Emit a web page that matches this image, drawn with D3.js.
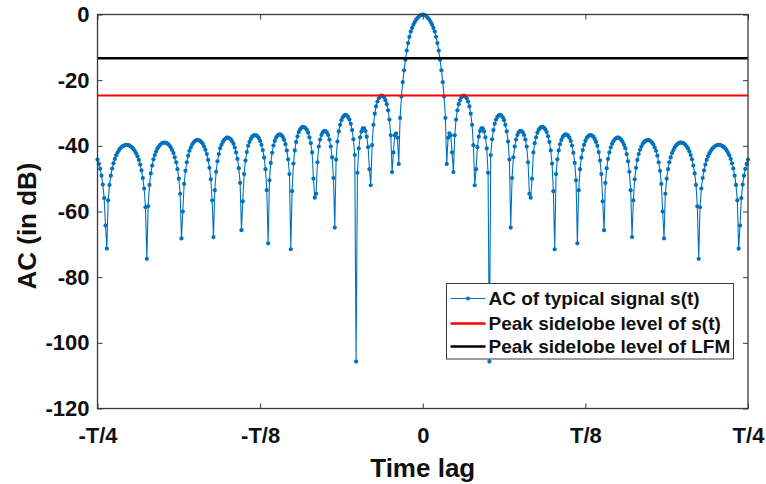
<!DOCTYPE html>
<html>
<head>
<meta charset="utf-8">
<script src="https://cdn.jsdelivr.net/npm/d3@7"></script>
<style>
body { margin: 0; background: #fff; }
svg { display: block; font-family: "Liberation Sans", Arial, sans-serif; font-weight: bold; }
</style>
</head>
<body>
<svg width="766" height="484"></svg>
<script>
// AC of typical signal s(t) in dB
// lags -244 .. -1
const acLeft = [
	-44.2, -45.5, -47.0, -49.1, -51.8, -55.9, -64.3, -71.3, -56.6, -51.9,
	-49.1, -46.9, -45.3, -44.0, -42.9, -42.1, -41.4, -40.8, -40.4, -40.1,
	-39.9, -39.7, -39.7, -39.8, -39.9, -40.2, -40.5, -41.0, -41.6, -42.3,
	-43.2, -44.3, -45.7, -47.5, -49.8, -53.0, -58.7, -74.4, -58.4, -51.9,
	-48.4, -46.0, -44.1, -42.8, -41.7, -40.8, -40.2, -39.7, -39.3, -39.1,
	-39.0, -39.0, -39.2, -39.5, -39.9, -40.5, -41.3, -42.2, -43.5, -45.0,
	-47.1, -50.0, -54.6, -68.2, -60.0, -51.6, -47.6, -45.0, -43.0, -41.5,
	-40.5, -39.6, -39.0, -38.6, -38.3, -38.2, -38.3, -38.5, -38.9, -39.4,
	-40.2, -41.2, -42.5, -44.3, -46.7, -50.2, -56.6, -67.8, -53.5, -47.9,
	-44.7, -42.5, -40.7, -39.7, -38.8, -38.2, -37.8, -37.5, -37.5, -37.7,
	-38.0, -38.6, -39.4, -40.5, -42.0, -44.0, -46.8, -51.3, -65.7, -56.9,
	-48.6, -44.5, -41.9, -40.0, -38.8, -37.9, -37.2, -36.9, -36.7, -36.8,
	-37.1, -37.6, -38.5, -39.7, -41.3, -43.6, -47.1, -53.5, -69.7, -50.5,
	-45.2, -42.1, -39.9, -38.5, -37.5, -36.9, -36.6, -36.5, -36.8, -37.3,
	-38.2, -39.5, -41.4, -44.1, -48.6, -71.5, -53.8, -45.4, -41.4, -38.8,
	-37.1, -35.8, -35.0, -34.5, -34.2, -34.3, -34.6, -35.1, -36.0, -37.4,
	-39.2, -42.0, -50.0, -55.8, -54.6, -45.0, -40.2, -38.1, -36.7, -35.9,
	-35.5, -35.5, -35.9, -36.7, -38.1, -40.2, -43.5, -49.8, -64.9, -44.2,
	-38.7, -35.6, -33.6, -32.2, -31.3, -30.8, -30.6, -30.7, -31.2, -32.0,
	-33.3, -35.2, -38.0, -42.8, -105.7, -48.2, -40.8, -37.4, -35.6, -34.7,
	-34.7, -35.5, -37.2, -40.4, -47.1, -52.0, -39.8, -33.6, -30.2, -28.0,
	-26.5, -25.5, -24.9, -24.7, -24.8, -25.2, -26.1, -27.3, -29.2, -32.0,
	-36.8, -48.0, -42.0, -36.8, -36.2, -37.5, -45.5, -31.5, -25.0, -20.6,
	-17.0, -13.8, -11.0, -8.7, -6.8, -5.2, -4.1, -3.1, -2.3, -1.6,
	-1.1, -0.7, -0.3, -0.1
];
// lags 0 .. 244
const acRight = [
	0, -0.1, -0.3, -0.7, -1.1, -1.6, -2.3, -3.1, -4.1, -5.2,
	-6.8, -8.7, -11.0, -13.8, -17.0, -20.6, -25.0, -31.5, -45.5, -37.5,
	-36.2, -36.8, -42.0, -48.0, -36.8, -32.0, -29.2, -27.3, -26.1, -25.2,
	-24.8, -24.7, -24.9, -25.5, -26.5, -28.0, -30.2, -33.6, -39.8, -52.0,
	-47.1, -40.4, -37.2, -35.5, -34.7, -34.7, -35.6, -37.4, -40.8, -48.2,
	-105.7, -42.8, -38.0, -35.2, -33.3, -32.0, -31.2, -30.7, -30.6, -30.8,
	-31.3, -32.2, -33.6, -35.6, -38.7, -44.2, -64.9, -49.8, -43.5, -40.2,
	-38.1, -36.7, -35.9, -35.5, -35.5, -35.9, -36.7, -38.1, -40.2, -45.0,
	-54.6, -55.8, -50.0, -42.0, -39.2, -37.4, -36.0, -35.1, -34.6, -34.3,
	-34.2, -34.5, -35.0, -35.8, -37.1, -38.8, -41.4, -45.4, -53.8, -71.5,
	-48.6, -44.1, -41.4, -39.5, -38.2, -37.3, -36.8, -36.5, -36.6, -36.9,
	-37.5, -38.5, -39.9, -42.1, -45.2, -50.5, -69.7, -53.5, -47.1, -43.6,
	-41.3, -39.7, -38.5, -37.6, -37.1, -36.8, -36.7, -36.9, -37.2, -37.9,
	-38.8, -40.0, -41.9, -44.5, -48.6, -56.9, -65.7, -51.3, -46.8, -44.0,
	-42.0, -40.5, -39.4, -38.6, -38.0, -37.7, -37.5, -37.5, -37.8, -38.2,
	-38.8, -39.7, -40.7, -42.5, -44.7, -47.9, -53.5, -67.8, -56.6, -50.2,
	-46.7, -44.3, -42.5, -41.2, -40.2, -39.4, -38.9, -38.5, -38.3, -38.2,
	-38.3, -38.6, -39.0, -39.6, -40.5, -41.5, -43.0, -45.0, -47.6, -51.6,
	-60.0, -68.2, -54.6, -50.0, -47.1, -45.0, -43.5, -42.2, -41.3, -40.5,
	-39.9, -39.5, -39.2, -39.0, -39.0, -39.1, -39.3, -39.7, -40.2, -40.8,
	-41.7, -42.8, -44.1, -46.0, -48.4, -51.9, -58.4, -74.4, -58.7, -53.0,
	-49.8, -47.5, -45.7, -44.3, -43.2, -42.3, -41.6, -41.0, -40.5, -40.2,
	-39.9, -39.8, -39.7, -39.7, -39.9, -40.1, -40.4, -40.8, -41.4, -42.1,
	-42.9, -44.0, -45.3, -46.9, -49.1, -51.9, -56.6, -71.3, -64.3, -55.9,
	-51.8, -49.1, -47.0, -45.5, -44.2
];
const lagStart = -244;

const pslSignal = -24.7;   // red line
const pslLfm = -13.3;      // black line

const yTicks = [-120, -100, -80, -60, -40, -20, 0];
const xTicks = [-244, -122, 0, 122, 244];
const xTickLabels = ["-T/4", "-T/8", "0", "T/8", "T/4"];
const legendLabels = ["AC of typical signal s(t)", "Peak sidelobe level of s(t)", "Peak sidelobe level of LFM"];
const colors = ["#0072BD", "#FF0000", "#000000"];

var svg = d3.select("svg");

const mLeft = 97.5, mRight = 748, mTop = 14.5, mBottom = 408.5;
const x = d3.scaleLinear().domain([-244, 244]).range([mLeft, mRight]);
const y = d3.scaleLinear().domain([-120, 0]).range([mBottom, mTop]);

const ac = acLeft.concat(acRight).map((v, i) => ({lag: lagStart + i, db: v}));

const g = svg.append("g");

//AC curve
g.append("path")
	.datum(ac)
	.attr("d", d3.line().x(d => x(d.lag)).y(d => y(d.db)))
	.attr("fill", "none")
	.attr("stroke", colors[0])
	.attr("stroke-width", 1.1);

g.selectAll("circle.ac")
	.data(ac)
	.enter()
	.append("circle")
	.attr("class", "ac")
	.attr("cx", d => x(d.lag))
	.attr("cy", d => y(d.db))
	.attr("r", 2.1)
	.attr("fill", colors[0]);

//Peak sidelobe levels
g.selectAll("line.psl")
	.data([{v: pslSignal, c: colors[1], w: 2}, {v: pslLfm, c: colors[2], w: 2.5}])
	.enter()
	.append("line")
	.attr("class", "psl")
	.attr("x1", x(-244))
	.attr("x2", x(244))
	.attr("y1", d => y(d.v))
	.attr("y2", d => y(d.v))
	.attr("stroke", d => d.c)
	.attr("stroke-width", d => d.w);

//Axes
const axisColor = "#3a3a3a";
function style_axis(sel, fontSize) {
	sel.select(".domain").remove();
	sel.selectAll(".tick line").attr("stroke", axisColor).attr("stroke-width", 1);
	sel.selectAll(".tick text")
		.attr("fill", "#111")
		.style("font-size", fontSize + "px")
		.style("font-weight", "bold")
		.style("font-family", '"Liberation Sans", Arial, sans-serif');
}

svg.append("g")
	.attr("transform", `translate(${mLeft},0)`)
	.call(d3.axisLeft(y).tickValues(yTicks).tickSize(-5).tickPadding(8).tickFormat(d => String(d)))
	.call(s => style_axis(s, 22));

svg.append("g")
	.attr("transform", `translate(${mRight},0)`)
	.call(d3.axisRight(y).tickValues(yTicks).tickSize(-5).tickFormat(""))
	.call(s => style_axis(s, 22));

svg.append("g")
	.attr("transform", `translate(0,${mBottom})`)
	.call(d3.axisBottom(x).tickValues(xTicks).tickSize(-5).tickPadding(19).tickFormat((d, i) => xTickLabels[i]))
	.call(s => style_axis(s, 22));

svg.append("g")
	.attr("transform", `translate(0,${mTop})`)
	.call(d3.axisTop(x).tickValues(xTicks).tickSize(-5).tickFormat(""))
	.call(s => style_axis(s, 22));

svg.append("rect")
	.attr("x", mLeft)
	.attr("y", mTop)
	.attr("width", mRight - mLeft)
	.attr("height", mBottom - mTop)
	.attr("fill", "none")
	.attr("stroke", axisColor)
	.attr("stroke-width", 1.3);

//Axis labels
svg.append("text")
	.attr("x", (mLeft + mRight) / 2)
	.attr("y", 477)
	.attr("text-anchor", "middle")
	.style("font-size", "26px")
	.attr("fill", "#111")
	.text("Time lag");

svg.append("text")
	.attr("transform", "translate(36,226) rotate(-90)")
	.attr("text-anchor", "middle")
	.style("font-size", "26px")
	.attr("fill", "#111")
	.text("AC (in dB)");

//Legend
const lg = svg.append("g").attr("transform", "translate(446.5,283.5)");
lg.append("rect")
	.attr("width", 287)
	.attr("height", 75.5)
	.attr("fill", "#fff")
	.attr("stroke", axisColor)
	.attr("stroke-width", 1);

const rows = lg.selectAll("g.row")
	.data(legendLabels)
	.enter()
	.append("g")
	.attr("class", "row")
	.attr("transform", (d, i) => `translate(0,${[15, 40, 63][i]})`);

rows.append("line")
	.attr("x1", 4)
	.attr("x2", 39)
	.attr("stroke", (d, i) => colors[i])
	.attr("stroke-width", (d, i) => i == 0 ? 1.1 : 2.5);

rows.filter((d, i) => i == 0)
	.append("circle")
	.attr("cx", 21.5)
	.attr("r", 2.1)
	.attr("fill", colors[0]);

rows.append("text")
	.attr("x", 42)
	.attr("dy", "0.35em")
	.style("font-size", "19px")
	.attr("fill", "#111")
	.text(d => d);
</script>
</body>
</html>
